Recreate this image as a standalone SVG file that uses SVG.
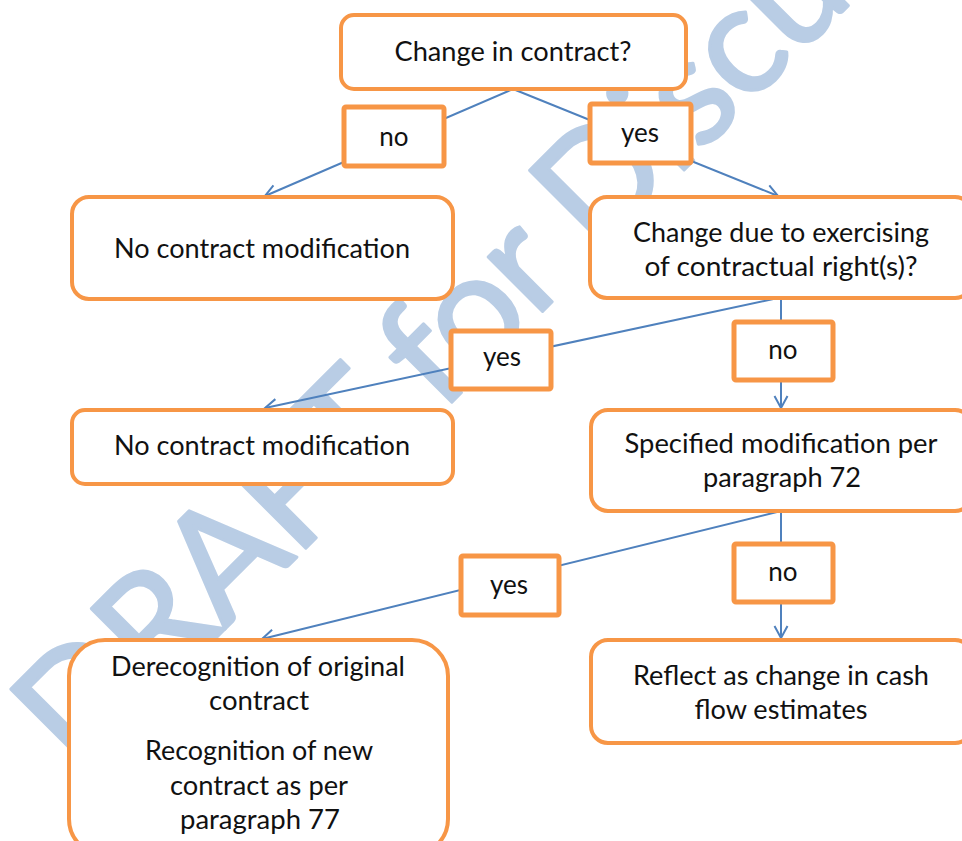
<svg xmlns="http://www.w3.org/2000/svg" width="962" height="841" viewBox="0 0 962 841">
<defs>
<style>
.box{fill:#fff;stroke:#f79646;stroke-width:4}
.lbl{fill:#fff;stroke:#f79646;stroke-width:5}
.t{font-family:Lato,"Open Sans","Liberation Sans",sans-serif;font-size:26px;fill:#111;text-anchor:middle}
.c{fill:none;stroke:#4f81bd;stroke-width:2}
.wm{font-family:Lato,"Open Sans","Liberation Sans",sans-serif;font-size:152px;fill:#b9cde5;stroke:#b9cde5;stroke-width:3;stroke-linejoin:round}
</style>
<marker id="arr" viewBox="-14 -8 16 16" markerWidth="16" markerHeight="16" refX="0" refY="0" orient="auto" markerUnits="userSpaceOnUse">
<path d="M-12,-6.5 L0,0 L-12,6.5" fill="none" stroke="#4f81bd" stroke-width="2"/>
</marker>
</defs>
<rect width="962" height="841" fill="#fff"/>
<text class="wm" transform="translate(78,776) rotate(-45)" textLength="1430" lengthAdjust="spacing">DRAFT for Discussion</text>
<g id="connectors">
<line class="c" x1="513" y1="89" x2="265" y2="196" marker-end="url(#arr)"/>
<line class="c" x1="513" y1="89" x2="778" y2="196" marker-end="url(#arr)"/>
<line class="c" x1="778" y1="298" x2="265" y2="408" marker-end="url(#arr)"/>
<line class="c" x1="781" y1="298" x2="781" y2="408" marker-end="url(#arr)"/>
<line class="c" x1="781" y1="511" x2="262" y2="639" marker-end="url(#arr)"/>
<line class="c" x1="781" y1="511" x2="781" y2="638" marker-end="url(#arr)"/>
</g>
<g id="n1"><rect class="box" x="341" y="15" width="345" height="74" rx="13"/><text class="t" x="513" y="61" textLength="237" lengthAdjust="spacingAndGlyphs">Change in contract?</text></g>
<g id="n2"><rect class="box" x="72" y="197" width="381" height="102" rx="17"/><text class="t" x="262" y="258" textLength="296" lengthAdjust="spacingAndGlyphs">No contract modification</text></g>
<g id="n3"><rect class="box" x="590" y="197" width="382" height="101" rx="17"/><text class="t" x="781" y="242" textLength="296" lengthAdjust="spacingAndGlyphs">Change due to exercising</text><text class="t" x="781" y="276" textLength="273" lengthAdjust="spacingAndGlyphs">of contractual right(s)?</text></g>
<g id="n4"><rect class="box" x="72" y="410" width="381" height="74" rx="13"/><text class="t" x="262" y="455" textLength="296" lengthAdjust="spacingAndGlyphs">No contract modification</text></g>
<g id="n5"><rect class="box" x="591" y="410" width="381" height="101" rx="17"/><text class="t" x="781" y="453" textLength="313" lengthAdjust="spacingAndGlyphs">Specified modification per</text><text class="t" x="782" y="487" textLength="158" lengthAdjust="spacingAndGlyphs">paragraph 72</text></g>
<g id="n6"><rect class="box" x="69" y="640" width="379" height="215" rx="36"/><text class="t" x="258" y="676" textLength="294" lengthAdjust="spacingAndGlyphs">Derecognition of original</text><text class="t" x="259" y="710" textLength="100" lengthAdjust="spacingAndGlyphs">contract</text><text class="t" x="259" y="760" textLength="228" lengthAdjust="spacingAndGlyphs">Recognition of new</text><text class="t" x="259" y="795" textLength="178" lengthAdjust="spacingAndGlyphs">contract as per</text><text class="t" x="260" y="829" textLength="160" lengthAdjust="spacingAndGlyphs">paragraph 77</text></g>
<g id="n7"><rect class="box" x="591" y="640" width="381" height="103" rx="17"/><text class="t" x="781" y="685" textLength="296" lengthAdjust="spacingAndGlyphs">Reflect as change in cash</text><text class="t" x="781" y="719" textLength="173" lengthAdjust="spacingAndGlyphs">flow estimates</text></g>
<g id="l1"><rect class="lbl" x="344" y="107" width="100" height="59" rx="2"/><text class="t" x="394" y="146">no</text></g>
<g id="l2"><rect class="lbl" x="590" y="104" width="101" height="59" rx="2"/><text class="t" x="640" y="142">yes</text></g>
<g id="l3"><rect class="lbl" x="451" y="331" width="100" height="58" rx="2"/><text class="t" x="502" y="366">yes</text></g>
<g id="l4"><rect class="lbl" x="734" y="322" width="99" height="58" rx="2"/><text class="t" x="783" y="359">no</text></g>
<g id="l5"><rect class="lbl" x="461" y="556" width="98" height="59" rx="2"/><text class="t" x="509" y="594">yes</text></g>
<g id="l6"><rect class="lbl" x="734" y="544" width="99" height="58" rx="2"/><text class="t" x="783" y="581">no</text></g>
</svg>
